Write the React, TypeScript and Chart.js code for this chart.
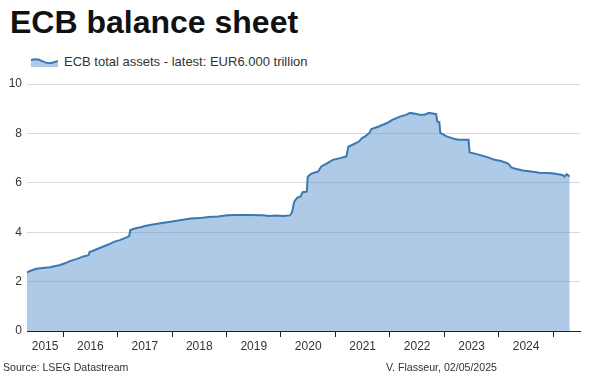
import React, { useEffect, useRef } from "react";
import { Chart, registerables } from "chart.js";
Chart.register(...registerables);

const titleText = "ECB balance sheet";
const seriesLabel = "ECB total assets - latest: EUR6.000 trillion";
const sourceText = "Source: LSEG Datastream";
const creditText = "V. Flasseur, 02/05/2025";

const yearLabels = ["2015", "2016", "2017", "2018", "2019", "2020", "2021", "2022", "2023", "2024"];
const yTickValues = [0, 2, 4, 6, 8, 10];

const dates = [
  "2015-05-04", "2015-06-01", "2015-07-06", "2015-08-17", "2015-10-05", "2015-11-02", "2015-12-07",
  "2016-01-04", "2016-02-15", "2016-04-04", "2016-05-16", "2016-06-20", "2016-06-27", "2016-08-01",
  "2016-09-12", "2016-10-31", "2016-12-12", "2017-01-16", "2017-03-06", "2017-03-20", "2017-03-27",
  "2017-05-01", "2017-06-05", "2017-07-03", "2017-09-04", "2017-11-06", "2018-01-01", "2018-03-05",
  "2018-05-07", "2018-07-02", "2018-09-03", "2018-11-05", "2019-01-07", "2019-03-04", "2019-06-03",
  "2019-09-02", "2019-10-14", "2019-12-02", "2020-01-13", "2020-03-02", "2020-03-16", "2020-03-30",
  "2020-04-20", "2020-05-11", "2020-05-25", "2020-06-22", "2020-06-29", "2020-07-20", "2020-09-07",
  "2020-09-28", "2020-11-02", "2020-12-14", "2021-02-01", "2021-03-15", "2021-03-29", "2021-04-19",
  "2021-06-07", "2021-06-28", "2021-07-19", "2021-08-16", "2021-08-30", "2021-10-18", "2021-12-13",
  "2022-01-17", "2022-03-14", "2022-04-18", "2022-05-16", "2022-06-20", "2022-07-18", "2022-08-22",
  "2022-09-19", "2022-10-24", "2022-11-07", "2022-11-14", "2022-11-28", "2022-12-05", "2023-01-16",
  "2023-03-13", "2023-04-03", "2023-06-12", "2023-06-19", "2023-07-31", "2023-09-11", "2023-10-16",
  "2023-12-04", "2024-01-15", "2024-02-26", "2024-03-11", "2024-03-25", "2024-04-15", "2024-06-10",
  "2024-08-05", "2024-09-30", "2024-11-18", "2024-12-23", "2025-02-03", "2025-03-03", "2025-03-17",
  "2025-03-31", "2025-04-14", "2025-04-21",
];

const totalAssets = [
  2.37, 2.45, 2.52, 2.55, 2.58, 2.62, 2.66,
  2.72, 2.83, 2.92, 3.02, 3.07, 3.20, 3.28,
  3.38, 3.50, 3.62, 3.68, 3.80, 3.84, 4.09,
  4.16, 4.20, 4.25, 4.32, 4.38, 4.43, 4.49,
  4.55, 4.57, 4.62, 4.64, 4.69, 4.70, 4.70,
  4.69, 4.66, 4.68, 4.66, 4.68, 4.82, 5.24,
  5.40, 5.44, 5.62, 5.64, 6.25, 6.36, 6.46,
  6.66, 6.78, 6.93, 7.00, 7.07, 7.47, 7.52,
  7.67, 7.81, 7.88, 8.02, 8.18, 8.28, 8.42,
  8.55, 8.69, 8.75, 8.83, 8.80, 8.76, 8.76,
  8.83, 8.80, 8.78, 8.49, 8.45, 8.02, 7.88,
  7.77, 7.74, 7.74, 7.23, 7.17, 7.10, 7.04,
  6.93, 6.88, 6.80, 6.73, 6.62, 6.58, 6.50,
  6.46, 6.41, 6.40, 6.39, 6.35, 6.32, 6.25,
  6.35, 6.28, 6.30,
];

function toYear(d: string): number {
  const [y, m, dd] = d.split("-").map(Number);
  const start = Date.UTC(y, 0, 1);
  const end = Date.UTC(y + 1, 0, 1);
  return y + (Date.UTC(y, m - 1, dd) - start) / (end - start);
}

const FONT = "'Liberation Sans', Arial, Helvetica, sans-serif";
const LINE_COLOR = "#3a78b4";
const FILL_COLOR = "rgba(93,150,205,0.5)";

export default function App() {
  const canvasRef = useRef<HTMLCanvasElement | null>(null);

  useEffect(() => {
    document.body.style.margin = "0";
    const canvas = canvasRef.current;
    if (!canvas) return;
    const xMin = toYear(dates[0]);
    const xMax = 2025.49;
    const points = dates.map((d, i) => ({ x: toYear(d), y: totalAssets[i] }));

    const chart = new Chart(canvas, {
      type: "line",
      data: {
        datasets: [
          {
            label: seriesLabel,
            data: points,
            borderColor: LINE_COLOR,
            backgroundColor: FILL_COLOR,
            borderWidth: 2,
            pointRadius: 0,
            tension: 0,
            fill: "origin",
          },
        ],
      },
      options: {
        animation: false,
        responsive: true,
        maintainAspectRatio: false,
        layout: { padding: { left: 0, right: 20, top: 84, bottom: 0 } },
        plugins: {
          legend: { display: false },
          tooltip: { enabled: false },
        },
        scales: {
          x: {
            type: "linear",
            min: xMin,
            max: xMax,
            afterFit: (scale: any) => {
              scale.height = 45;
            },
            afterBuildTicks: (scale: any) => {
              const vals: number[] = [];
              yearLabels.forEach((lbl) => {
                const y = Number(lbl);
                const a = Math.max(y, xMin);
                const b = y + 1;
                vals.push((a + b) / 2);
                if (b <= xMax) vals.push(b);
              });
              vals.sort((p, q) => p - q);
              scale.ticks = vals.map((v) => ({ value: v }));
            },
            ticks: {
              autoSkip: false,
              maxRotation: 0,
              minRotation: 0,
              padding: 2,
              color: "#333",
              font: { family: FONT, size: 12 },
              callback: (value: any) => {
                const v = Number(value);
                if (Number.isInteger(v)) return "";
                return String(Math.floor(v));
              },
            },
            grid: {
              display: true,
              drawOnChartArea: false,
              drawTicks: true,
              tickLength: 6,
              tickWidth: 1,
              tickColor: (ctx: any) =>
                ctx.tick && Number.isInteger(ctx.tick.value) ? "#222" : "rgba(0,0,0,0)",
            },
            border: { display: true, color: "#222", width: 1 },
          },
          y: {
            min: 0,
            max: 10,
            afterFit: (scale: any) => {
              scale.width = 27;
            },
            afterBuildTicks: (scale: any) => {
              scale.ticks = yTickValues.map((v) => ({ value: v }));
            },
            ticks: {
              padding: 5,
              color: "#333",
              font: { family: FONT, size: 12 },
            },
            grid: {
              drawTicks: false,
              color: (ctx: any) => (ctx.tick && ctx.tick.value === 0 ? "rgba(0,0,0,0)" : "#d9d9d9"),
              lineWidth: 1,
            },
            border: { display: false },
          },
        },
      },
    });
    return () => chart.destroy();
  }, []);

  return (
    <div style={{ position: "relative", width: 600, height: 376, overflow: "hidden", fontFamily: FONT, background: "#fff" }}>
      <div
        style={{
          position: "absolute",
          left: 10,
          top: 6,
          fontSize: 32,
          lineHeight: "32px",
          fontWeight: "bold",
          color: "#111",
          whiteSpace: "nowrap",
        }}
      >
        {titleText}
      </div>
      <div style={{ position: "absolute", left: 31, top: 55, height: 14, display: "flex", alignItems: "center", whiteSpace: "nowrap" }}>
        <svg width="27" height="10" viewBox="0 0 27 10" style={{ display: "block" }}>
          <path d="M0,3 Q6,1 12,4.5 T27,4 L27,10 L0,10 Z" fill="rgba(93,150,205,0.5)" />
          <path d="M0,3 Q6,1 12,4.5 T27,4" fill="none" stroke={LINE_COLOR} strokeWidth="2" />
        </svg>
        <span style={{ marginLeft: 6, fontSize: 13, lineHeight: "14px", color: "#333" }}>{seriesLabel}</span>
      </div>
      <div style={{ position: "absolute", left: 0, top: 0, width: 600, height: 376 }}>
        <canvas ref={canvasRef} />
      </div>
      <div style={{ position: "absolute", left: 3, top: 360, fontSize: 10.6, lineHeight: "14px", color: "#333", whiteSpace: "nowrap" }}>
        {sourceText}
      </div>
      <div style={{ position: "absolute", left: 386, top: 360, fontSize: 10.6, lineHeight: "14px", color: "#333", whiteSpace: "nowrap" }}>
        {creditText}
      </div>
    </div>
  );
}
